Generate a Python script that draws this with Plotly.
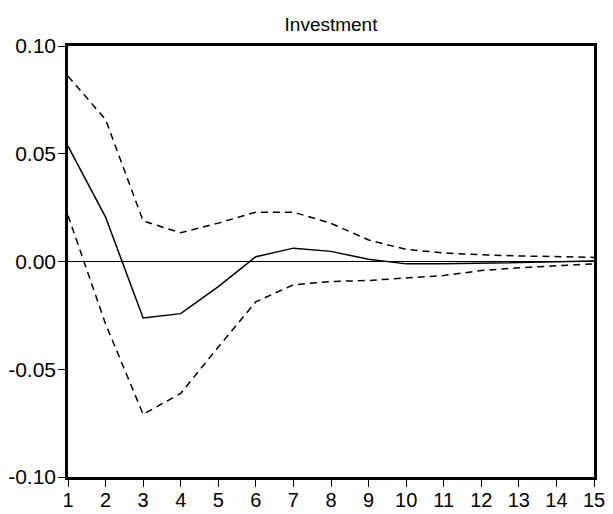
import plotly.graph_objects as go

periods = list(range(1, 16))
response = [0.0535, 0.0206, -0.0262, -0.0242, -0.0117, 0.0022, 0.0062, 0.0047, 0.0010, -0.0011, -0.0011, -0.0008, -0.0003, 0.0000, 0.0002]
upper = [0.0860, 0.0659, 0.0188, 0.0133, 0.0178, 0.0229, 0.0229, 0.0177, 0.0100, 0.0056, 0.0040, 0.0031, 0.0026, 0.0022, 0.0019]
lower = [0.0214, -0.0290, -0.0709, -0.0612, -0.0397, -0.0187, -0.0108, -0.0093, -0.0088, -0.0078, -0.0065, -0.0042, -0.0029, -0.0020, -0.0011]
y_ticks = [-0.10, -0.05, 0.00, 0.05, 0.10]
y_tick_labels = ["-0.10", "-0.05", "0.00", "0.05", "0.10"]
title = "Investment"

fig = go.Figure()
fig.add_trace(go.Scatter(x=periods, y=upper, mode="lines",
                         line=dict(color="black", width=1.5, dash="7px,5px"), showlegend=False))
fig.add_trace(go.Scatter(x=periods, y=lower, mode="lines",
                         line=dict(color="black", width=1.5, dash="7px,5px"), showlegend=False))
fig.add_trace(go.Scatter(x=periods, y=response, mode="lines",
                         line=dict(color="black", width=1.5), showlegend=False))

# the page body has an 8px default margin, so the figure is 8px smaller
W, H = 605, 506
L, R, T, B = 60, 19, 38, 37
font_family = "Liberation Sans, Arial, sans-serif"
fig.update_layout(
    width=W, height=H,
    margin=dict(l=L, r=R, t=T, b=B, autoexpand=False),
    paper_bgcolor="white", plot_bgcolor="white",
    font=dict(family=font_family, color="black"),
    title=dict(text=title, x=(L + (W - R)) / 2 / W, xanchor="center", y=1 - 16 / H, yanchor="middle",
               font=dict(size=19, family=font_family, color="black")),
    xaxis=dict(range=[1, 15], tickmode="array", tickvals=periods, ticktext=[str(p) for p in periods],
               ticks="outside", ticklen=7, tickwidth=1.2, tickcolor="black",
               showline=True, linecolor="black", linewidth=2.5, mirror=True, automargin=False,
               showgrid=False, zeroline=False, tickfont=dict(size=20), ticklabelstandoff=-4),
    yaxis=dict(range=[-0.1, 0.1], tickmode="array", tickvals=y_ticks, ticktext=y_tick_labels,
               ticks="outside", ticklen=7, tickwidth=1.2, tickcolor="black",
               showline=True, linecolor="black", linewidth=2.5, mirror=True, automargin=False,
               showgrid=False, zeroline=True, zerolinecolor="black", zerolinewidth=1,
               tickfont=dict(size=21), ticklabelstandoff=-2),
)

fig.write_html("out.html")
